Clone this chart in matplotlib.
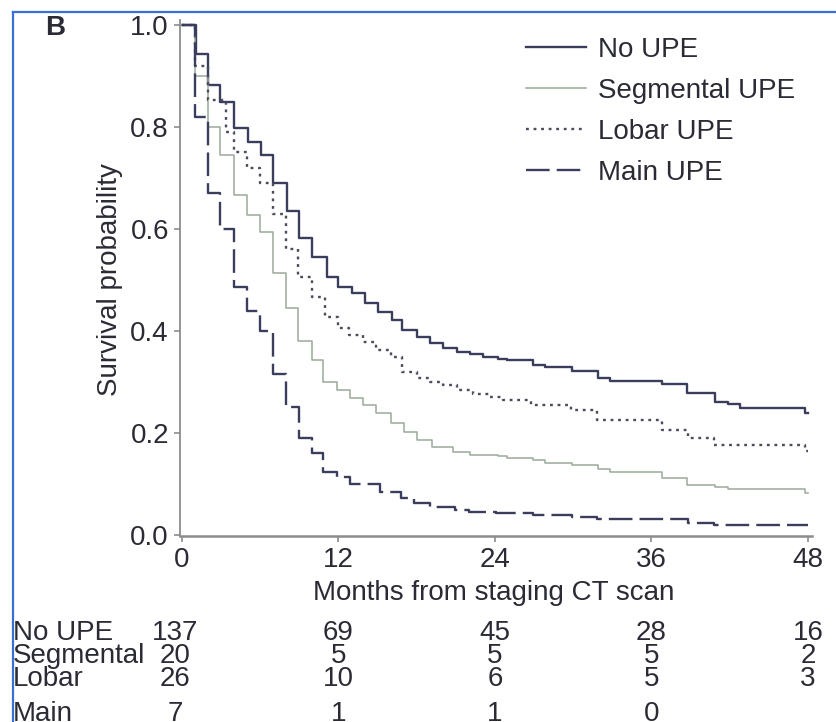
import matplotlib
matplotlib.use("Agg")
import matplotlib.pyplot as plt
from matplotlib.lines import Line2D
from matplotlib import transforms

plt.rcParams['font.family'] = ['Liberation Sans', 'DejaVu Sans']

# Kaplan-Meier step curves: event times (months) and survival after each step
no_upe_t = [0, 1.07, 2.0, 2.9, 4.0, 5.06, 6.06, 6.98, 8.05, 8.97, 9.97, 11.1, 12.0, 13.0,
            14.0, 15.0, 16.1, 16.9, 18.0, 19.0, 20.0, 21.1, 22.1, 23.1, 24.2, 24.9, 26.9,
            27.8, 29.9, 31.9, 32.8, 36.8, 38.7, 40.9, 41.9, 42.8, 47.8, 48]
no_upe_s = [1.0, 0.943, 0.882, 0.849, 0.798, 0.771, 0.745, 0.69, 0.635, 0.582, 0.545, 0.506,
            0.486, 0.474, 0.455, 0.437, 0.421, 0.402, 0.388, 0.376, 0.367, 0.359, 0.355,
            0.349, 0.345, 0.343, 0.333, 0.329, 0.322, 0.308, 0.302, 0.296, 0.278, 0.261,
            0.257, 0.249, 0.239, 0.239]

seg_t = [0, 1.0, 2.0, 2.9, 4.0, 5.0, 6.0, 7.0, 8.0, 8.9, 10.0, 10.8, 11.9, 12.9, 13.9, 14.9,
         16.0, 17.0, 18.0, 19.2, 20.8, 22.1, 24.2, 24.9, 26.9, 27.8, 29.9, 31.9, 32.8, 36.8,
         38.7, 40.9, 41.9, 47.8, 48]
seg_s = [1.0, 0.90, 0.80, 0.745, 0.667, 0.627, 0.594, 0.514, 0.445, 0.38, 0.343, 0.30, 0.284,
         0.268, 0.255, 0.239, 0.22, 0.202, 0.186, 0.173, 0.163, 0.157, 0.155, 0.151, 0.147,
         0.141, 0.137, 0.129, 0.124, 0.112, 0.098, 0.094, 0.09, 0.082, 0.082]

lob_t = [0, 1.0, 2.0, 3.4, 4.0, 5.0, 6.0, 7.0, 8.0, 8.9, 10.0, 11.0, 12.0, 12.8, 13.9, 14.9,
         16.0, 16.9, 18.0, 19.0, 20.0, 21.1, 22.3, 23.6, 24.6, 26.8, 29.8, 31.8, 36.8, 38.8,
         40.8, 47.8, 48]
lob_s = [1.0, 0.92, 0.853, 0.79, 0.75, 0.72, 0.69, 0.63, 0.56, 0.506, 0.467, 0.427, 0.406,
         0.392, 0.378, 0.363, 0.349, 0.32, 0.308, 0.30, 0.294, 0.284, 0.276, 0.27, 0.265,
         0.255, 0.245, 0.225, 0.205, 0.19, 0.176, 0.165, 0.165]

main_t = [0, 1.0, 2.0, 2.9, 4.0, 5.0, 6.0, 7.0, 8.0, 9.0, 10.0, 10.8, 11.9, 12.9, 15.2, 16.8,
          17.8, 19.0, 20.9, 22.0, 24.1, 26.9, 29.9, 31.8, 38.8, 40.8, 48]
main_s = [1.0, 0.82, 0.67, 0.60, 0.486, 0.44, 0.40, 0.315, 0.25, 0.19, 0.16, 0.124, 0.114,
          0.10, 0.084, 0.073, 0.063, 0.055, 0.049, 0.045, 0.043, 0.039, 0.035, 0.031, 0.024,
          0.02, 0.02]

# Numbers at risk
risk_times = [0, 12, 24, 36, 48]
risk_labels = ['No UPE', 'Segmental', 'Lobar', 'Main']
risk_no_upe = [137, 69, 45, 28, 16]
risk_seg = [20, 5, 5, 5, 2]
risk_lob = [26, 10, 6, 5, 3]
risk_main = [7, 1, 1, 0]

legend_labels = ['No UPE', 'Segmental UPE', 'Lobar UPE', 'Main UPE']

W, H = 836, 722
TXT = '#2b2b35'
AXC = '#8c8c8c'
NAVY = '#3a3d5c'
SEGC = '#9aaa9a'
LOBC = '#4c4c5c'

fig = plt.figure(figsize=(W / 100, H / 100), dpi=100)


def fx(px):
    return px / W


def fy(py):
    return 1 - py / H


ax = fig.add_axes([fx(180), fy(536), fx(812) - fx(180), fy(20) - fy(536)])
ax.set_xlim(-0.153, 48.31)
ax.set_ylim(-0.002, 1.0098)

styles = [
    dict(color=NAVY, lw=1.7, ls='-'),
    dict(color=SEGC, lw=1.1, ls='-'),
    dict(color=LOBC, lw=1.7, ls=(0, (1.2, 2.0))),
    dict(color=NAVY, lw=1.7, ls=(0, (10, 3))),
]
curves = [(no_upe_t, no_upe_s), (seg_t, seg_s), (lob_t, lob_s), (main_t, main_s)]
for (t, s), st in zip(curves, styles):
    ax.step(t, s, where='post', clip_on=False, **st)

for side in ['top', 'right']:
    ax.spines[side].set_visible(False)
ax.spines['left'].set_color(AXC)
ax.spines['left'].set_linewidth(1.3)
ax.spines['bottom'].set_color(AXC)
ax.spines['bottom'].set_linewidth(1.8)

ax.set_xticks(risk_times)
ax.set_yticks([0.0, 0.2, 0.4, 0.6, 0.8, 1.0])
ax.set_yticklabels(['0.0', '0.2', '0.4', '0.6', '0.8', '1.0'])
ax.tick_params(direction='out', length=4, width=1.2, color=AXC, labelsize=20,
               labelcolor=TXT, pad=4)

fig.text(fx(110), fy(280), 'Survival probability', rotation=90, ha='center', va='center',
         fontsize=20, color=TXT)
fig.text(fx(494), fy(593), 'Months from staging CT scan', ha='center', va='center',
         fontsize=20, color=TXT)
fig.text(fx(55), fy(28), 'B', ha='center', va='center', fontsize=20, fontweight='bold',
         color=TXT)

handles = [Line2D([], [], **st) for st in styles]
fig.legend(handles, legend_labels, loc='upper left', bbox_to_anchor=(fx(526), fy(37)),
           frameon=False, fontsize=20, labelcolor=TXT, handlelength=2.15,
           handletextpad=0.45, labelspacing=0.54, borderpad=0, borderaxespad=0)

# Numbers-at-risk table under the axis
tr = transforms.blended_transform_factory(ax.transData, fig.transFigure)
rows = [risk_no_upe, risk_seg, risk_lob, risk_main]
row_y = [633, 656, 679, 714]
col_x = [-0.5] + risk_times[1:]
for label, vals, py in zip(risk_labels, rows, row_y):
    fig.text(fx(13), fy(py), label, ha='left', va='center', fontsize=20, color=TXT)
    for x, v in zip(col_x, vals):
        ax.text(x, fy(py), str(v), transform=tr, ha='center', va='center', fontsize=20,
                color=TXT, clip_on=False)

# Blue frame edges (top and left)
fig.add_artist(Line2D([fx(13), 1.0], [fy(12), fy(12)], color='#3b6fd6', lw=1.6))
fig.add_artist(Line2D([fx(13), fx(13)], [0.0, fy(12)], color='#3b6fd6', lw=1.6))

fig.savefig('out.png', dpi=100)
